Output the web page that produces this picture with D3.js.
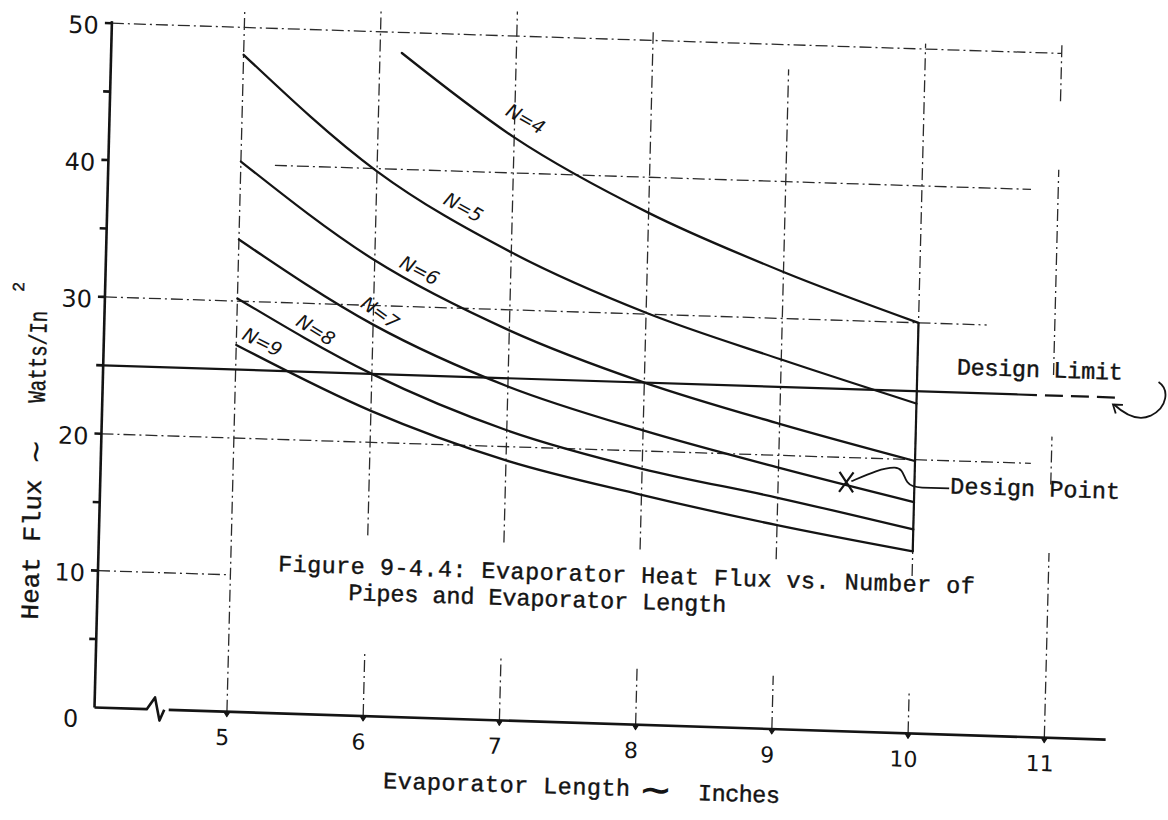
<!DOCTYPE html>
<html>
<head>
<meta charset="utf-8">
<script src="https://cdn.jsdelivr.net/npm/d3@7"></script>
<style>
  body { margin: 0; background: #fff; }
  svg { display: block; }
</style>
</head>
<body>
<svg id="chart" width="1168" height="820"></svg>
<script>
// ---------------- data ----------------
const lengths   = [5, 6, 7, 8, 9, 10];          // evaporator length, inches
const lengthsN4 = [6.16, 7, 8, 9, 10];
const fluxN4 = [48.5, 42.6, 37.4, 33.4, 30.0];
const fluxN5 = [48.0, 39.8, 34.2, 30.1, 27.0, 24.1];
const fluxN6 = [40.2, 33.3, 28.5, 25.0, 22.3, 19.9];
const fluxN7 = [34.5, 28.6, 24.4, 21.5, 19.1, 16.9];
const fluxN8 = [30.2, 25.0, 21.2, 18.7, 16.9, 14.9];
const fluxN9 = [26.8, 22.3, 19.0, 16.8, 14.9, 13.3];
const pipeCounts = [4, 5, 6, 7, 8, 9];
const xTicks = [5, 6, 7, 8, 9, 10, 11];
const yTicks = [0, 10, 20, 30, 40, 50];
const yMinorTicks = [5, 15, 25, 35, 45];
const designLimit = 25;
const designPointX = 9.5;
const designPointY = 18.2;
// curve-label anchors (data units) and angles
const labelLen   = [7.08, 6.64, 6.33, 6.05, 5.58, 5.19];
const labelFlux  = [44.0, 37.4, 32.7, 29.5, 28.1, 27.1];
const labelAngle = [28, 27, 26, 34, 30, 25];

// ---------------- frame (scanned page is slightly rotated) ----------------
const svg = d3.select('#chart');
const g = svg.append('g')
  .attr('transform', 'matrix(0.9995,0.0318,-0.0254,0.9997,94.5,707.5)');

const x = d3.scaleLinear().domain([5, 11]).range([132.5, 950.3]);
const y = d3.scaleLinear().domain([0, 50]).range([0, -684.5]);

const ink = '#141414';
const gridInk = '#2a2a2a';
const mono = '"Liberation Mono", "Courier New", monospace';

// ---------------- grid (dash-dot, broken as in the scan) ----------------
const xAxisStart = x.invert(0);
const vGrid = [
  {v: 5,  segs: [[0, 51.2]]},
  {v: 6,  segs: [[0, 4.8], [13.2, 51.6]]},
  {v: 7,  segs: [[0, 4.6], [13.0, 51.8]]},
  {v: 8,  segs: [[0, 4.3], [12.8, 50.6]]},
  {v: 9,  segs: [[0, 3.9], [12.4, 48.2]]},
  {v: 10, segs: [[0, 3.1], [11.5, 50.4]]},
  {v: 11, segs: [[0, 13.5], [18.5, 22.0], [26.5, 41.5], [46.5, 50.6]]}
];
const hGrid = [
  {v: 50, segs: [[xAxisStart, 11]]},
  {v: 40, segs: [[5.25, 10.8]]},
  {v: 30, segs: [[xAxisStart, 10.5]]},
  {v: 20, segs: [[xAxisStart, 10.85]]},
  {v: 10, segs: [[xAxisStart, 5.0]]}
];
const gridG = g.append('g')
  .attr('stroke', gridInk).attr('stroke-width', 1.3)
  .attr('stroke-dasharray', '12,4,2,4').attr('fill', 'none');
vGrid.forEach(l => l.segs.forEach(s => {
  gridG.append('line')
    .attr('x1', x(l.v)).attr('x2', x(l.v))
    .attr('y1', y(s[0])).attr('y2', y(s[1]));
}));
hGrid.forEach(l => l.segs.forEach(s => {
  gridG.append('line')
    .attr('x1', x(s[0])).attr('x2', x(s[1]))
    .attr('y1', y(l.v)).attr('y2', y(l.v));
}));

// ---------------- axes ----------------
const axG = g.append('g').attr('stroke', ink).attr('stroke-width', 2.6)
  .attr('fill', 'none').attr('stroke-linejoin', 'round');
// y axis
axG.append('line').attr('x1', 0).attr('x2', 0).attr('y1', 0).attr('y2', y(50.15));
yTicks.concat(yMinorTicks).forEach(t => {
  if (t === 0) return;
  axG.append('line').attr('x1', -7).attr('x2', 0).attr('y1', y(t)).attr('y2', y(t));
});
// x axis with break
const xb = x(4.47);
axG.append('path').attr('d', d3.line()([
  [0, 0], [xb - 8, 0], [xb, -12], [xb + 5, 11], [xb + 9.5, 0]
]));
axG.append('line').attr('x1', xb + 14).attr('x2', x(11.45)).attr('y1', 0).attr('y2', 0);
xTicks.forEach(t => {
  axG.append('path')
    .attr('d', `M${x(t) - 2.5},1 L${x(t) + 2.5},1 L${x(t)},5 Z`)
    .attr('fill', ink).attr('stroke-width', 1);
});

// tick labels
const tickFont = '"DejaVu Sans", "Noto Sans", sans-serif';
g.append('g').selectAll('text').data(yTicks).join('text')
  .attr('x', d => d === 0 ? -16 : -13)
  .attr('y', d => y(d) + (d === 0 ? 12 : 3))
  .attr('text-anchor', 'end').attr('dominant-baseline', 'central')
  .attr('font-family', tickFont).attr('font-size', 24).attr('fill', ink)
  .text(d => d);
g.append('g').selectAll('text').data(xTicks).join('text')
  .attr('x', d => x(d) - 4).attr('y', 26)
  .attr('text-anchor', 'middle').attr('dominant-baseline', 'central')
  .attr('font-family', tickFont).attr('font-size', 22).attr('fill', ink)
  .text(d => d);

// ---------------- design limit ----------------
g.append('line').attr('stroke', ink).attr('stroke-width', 2.2)
  .attr('x1', 0).attr('x2', x(10.75))
  .attr('y1', y(designLimit)).attr('y2', y(designLimit));
g.append('line').attr('stroke', ink).attr('stroke-width', 2.2)
  .attr('stroke-dasharray', '18,8')
  .attr('x1', x(10.75)).attr('x2', x(11.5))
  .attr('y1', y(designLimit)).attr('y2', y(designLimit));

// ---------------- curves ----------------
const series = [
  {n: pipeCounts[0], xs: lengthsN4, ys: fluxN4},
  {n: pipeCounts[1], xs: lengths, ys: fluxN5},
  {n: pipeCounts[2], xs: lengths, ys: fluxN6},
  {n: pipeCounts[3], xs: lengths, ys: fluxN7},
  {n: pipeCounts[4], xs: lengths, ys: fluxN8},
  {n: pipeCounts[5], xs: lengths, ys: fluxN9}
];
const line = d3.line().x(d => x(d[0])).y(d => y(d[1])).curve(d3.curveMonotoneX);
g.append('g').selectAll('path').data(series).join('path')
  .attr('d', s => line(s.xs.map((v, i) => [v, s.ys[i]])))
  .attr('fill', 'none').attr('stroke', ink).attr('stroke-width', 2.3)
  .attr('stroke-linecap', 'round');
// solid end connector at L = 10
g.append('line').attr('stroke', ink).attr('stroke-width', 2.2)
  .attr('x1', x(10)).attr('x2', x(10))
  .attr('y1', y(fluxN4[fluxN4.length - 1])).attr('y2', y(fluxN9[fluxN9.length - 1]));

// curve labels
g.append('g').selectAll('text').data(series).join('text')
  .attr('transform', (s, i) => `translate(${x(labelLen[i])},${y(labelFlux[i])}) rotate(${labelAngle[i]})`)
  .attr('text-anchor', 'middle').attr('dominant-baseline', 'central')
  .attr('font-family', '"DejaVu Sans", sans-serif').attr('font-style', 'italic')
  .attr('font-size', 19).attr('fill', ink).attr('letter-spacing', -0.5)
  .text(s => `N=${s.n}`);

// ---------------- design point ----------------
const dpx = x(designPointX), dpy = y(designPointY);
const dpG = g.append('g').attr('transform', `translate(${dpx},${dpy})`)
  .attr('stroke', ink).attr('fill', 'none').attr('stroke-width', 2);
dpG.append('path').attr('d', 'M-7,-10 L7,10 M7,-10 L-7,10').attr('stroke-width', 2.2);
dpG.append('path').attr('d', 'M5,-1 C20,-8 36,-16 48,-16 C57,-16 57,-7 61,-2 C64,2 68,3 76,3 L103,3')
  .attr('stroke-width', 1.8);
g.append('text').attr('x', dpx + 104).attr('y', dpy + 8)
  .attr('font-family', mono).attr('font-size', 23.5).attr('fill', ink)
  .attr('stroke', ink).attr('stroke-width', 0.4)
  .attr('textLength', 170).attr('lengthAdjust', 'spacing')
  .text('Design Point');

// design limit text + curly arrow
const ex = x(11.5), ey = y(designLimit);
g.append('text').attr('x', ex - 165).attr('y', ey - 18)
  .attr('font-family', mono).attr('font-size', 23.5).attr('fill', ink)
  .attr('stroke', ink).attr('stroke-width', 0.4)
  .attr('textLength', 166).attr('lengthAdjust', 'spacing')
  .text('Design Limit');
const arG = g.append('g').attr('transform', `translate(${ex},${ey})`)
  .attr('stroke', ink).attr('fill', 'none').attr('stroke-width', 1.8);
arG.append('path').attr('d', 'M37,-17 C48,-10 47,8 30,17 C20,22 8,20 -7,7');
arG.append('path').attr('d', 'M-5,16 L-8,7 L2,7');

// ---------------- texts (typewritten) ----------------
const txt = (xx, yy, s, len, size) => g.append('text')
  .attr('x', xx).attr('y', yy)
  .attr('font-family', mono).attr('font-size', size || 23.5).attr('fill', ink)
  .attr('stroke', ink).attr('stroke-width', 0.4)
  .attr('textLength', len).attr('lengthAdjust', 'spacing')
  .text(s);

// caption
txt(180, -142, 'Figure 9-4.4:  Evaporator Heat Flux vs. Number of', 697);
txt(251, -115.5, 'Pipes and Evaporator Length', 378);

// x title
txt(290.5, 71.5, 'Evaporator Length', 247);
g.append('text').attr('x', 563).attr('y', 64.6)
  .attr('text-anchor', 'middle').attr('dominant-baseline', 'central')
  .attr('font-family', '"DejaVu Sans", sans-serif').attr('font-weight', 'bold')
  .attr('font-size', 40).attr('fill', ink).attr('transform', 'scale(1,0.8) translate(0,16)')
  .text('~');
txt(605.5, 73.5, 'Inches', 82);

// y title
const yt = (xx, yy, s, len, size) => g.append('text')
  .attr('transform', `translate(${xx},${yy}) rotate(-90)`)
  .attr('font-family', mono).attr('font-size', size).attr('fill', ink)
  .attr('stroke', ink).attr('stroke-width', 0.4)
  .attr('textLength', len).attr('lengthAdjust', 'spacingAndGlyphs')
  .text(s);
yt(-59, -86, 'Heat Flux', 140, 25);
yt(-57.5, -302.7, 'Watts/In', 92, 25);
yt(-81, -413, '2', 10, 17);
g.append('text')
  .attr('transform', 'translate(-66,-253.5) rotate(-90)')
  .attr('text-anchor', 'middle').attr('dominant-baseline', 'central')
  .attr('font-family', '"DejaVu Sans", sans-serif')
  .attr('font-size', 30).attr('fill', ink)
  .text('~');
</script>
</body>
</html>
